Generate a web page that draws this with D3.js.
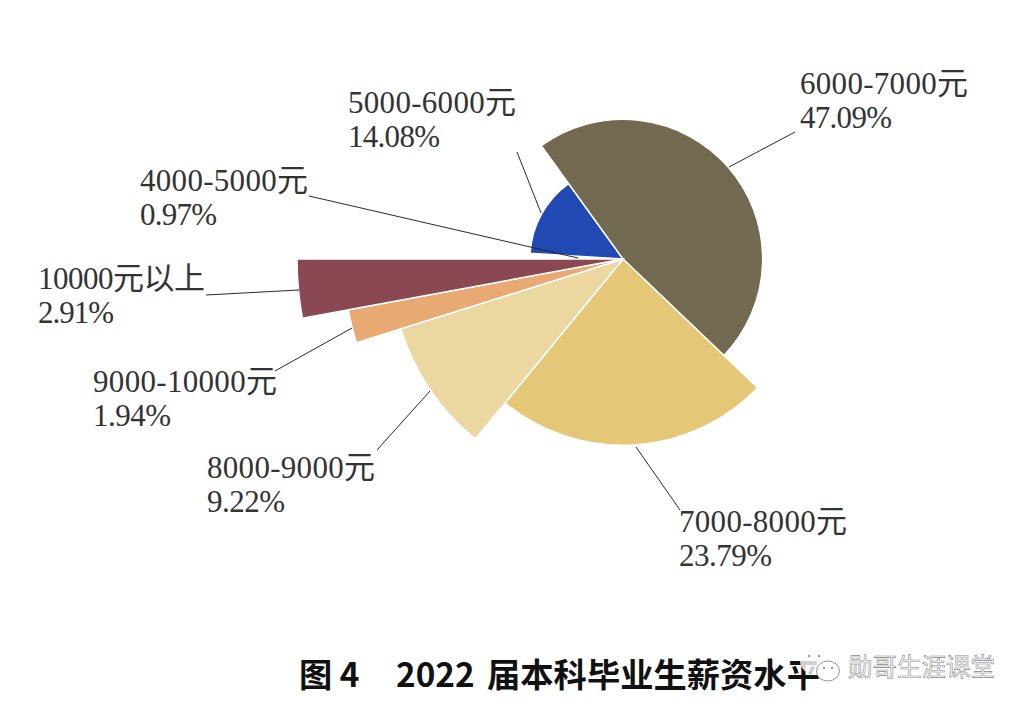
<!DOCTYPE html>
<html>
<head>
<meta charset="utf-8">
<script src="https://cdn.jsdelivr.net/npm/d3@7"></script>
<style>
  html, body { margin: 0; background: #fff; }
  .lbl { font-family: "Liberation Serif", "Noto Sans CJK SC", serif; font-size: 31px; fill: #333; }
  .ttl { font-family: "Noto Sans CJK SC", sans-serif; font-size: 33.3px; font-weight: 700; fill: #111; }
  .mark { font-family: "Noto Sans CJK SC", sans-serif; font-size: 24.5px; fill: #fff; stroke: #8a8a8a; stroke-width: .6px; }
</style>
</head>
<body>
<div id="chart"></div>
<script>
var svgWidth = 1030;
var svgHeight = 712;

// salary bands, in the order the slices run
var categories = ['4000-5000元', '5000-6000元', '6000-7000元', '7000-8000元', '8000-9000元', '9000-10000元', '10000元以上'];
var percents = [0.97, 14.08, 47.09, 23.79, 9.22, 1.94, 2.91];
var colors = ['#f6f1e6', '#2149b4', '#716a50', '#e5c877', '#ecd7a0', '#e8aa72', '#8a4852'];

// label anchor, drawn width of both text lines, leader line [x1, y1, x2, y2]
var labelPos = [[140, 191], [348, 113], [800, 94], [679, 532], [207, 478], [93, 392], [38, 289]];
var nameWidths = [168, 168, 168, 168, 168, 184, 167];
var pctWidths = [77, 92, 92, 93, 78, 78, 76];
var leaders = [
  [309, 196, 578, 258],
  [517, 152, 541, 213],
  [729, 167, 795, 132],
  [636, 447, 680, 510],
  [430, 391, 377, 450],
  [352, 328, 275, 371],
  [299, 290, 206, 295]
];

var center = [623, 259];

var svg = d3.select('#chart').append('svg')
  .attr('width', svgWidth)
  .attr('height', svgHeight);

// slices start pointing left, radius grows a step per band
var pie = d3.pie().sort(null)
  .startAngle(-Math.PI / 2)
  .endAngle(Math.PI * 1.5);

var radius = d3.scaleLinear().domain([0, 6]).range([46.5, 326]);
var arc = d3.arc().innerRadius(0).outerRadius((d) => radius(d.index));

svg.append('g')
  .attr('transform', `translate(${center[0]}, ${center[1]})`)
  .selectAll('path')
  .data(pie(percents))
  .enter()
  .append('path')
  .attr('d', arc)
  .attr('fill', (d, i) => colors[i])
  .attr('stroke', '#fff')
  .attr('stroke-width', 1.5);

// the 4000-5000 leader runs across the blue slice, so leaders go on top
svg.append('g').selectAll('line')
  .data(leaders)
  .enter()
  .append('line')
  .attr('x1', d => d[0])
  .attr('y1', d => d[1])
  .attr('x2', d => d[2])
  .attr('y2', d => d[3])
  .attr('stroke', '#2a2a2a')
  .attr('stroke-width', 1);

// labels
svg.append('g').selectAll('text')
  .data(categories)
  .enter()
  .append('text')
  .attr('class', 'lbl')
  .attr('x', (d, i) => labelPos[i][0])
  .attr('y', (d, i) => labelPos[i][1])
  .attr('textLength', (d, i) => nameWidths[i])
  .text(d => d);

svg.append('g').selectAll('text')
  .data(percents)
  .enter()
  .append('text')
  .attr('class', 'lbl')
  .attr('x', (d, i) => labelPos[i][0])
  .attr('y', (d, i) => labelPos[i][1] + 34)
  .attr('textLength', (d, i) => pctWidths[i])
  .text(d => d.toFixed(2) + '%');

var title = svg.append('text')
  .attr('class', 'ttl')
  .attr('y', 687);
title.append('tspan').attr('x', 299).text('图 4');
title.append('tspan').attr('x', 396).text('2022');
title.append('tspan').attr('x', 487).text('届本科毕业生薪资水平');

// watermark, sits over the end of the title
var wm = svg.append('g').attr('transform', 'translate(800, 648)');
wm.append('ellipse').attr('cx', 14).attr('cy', 13).attr('rx', 14).attr('ry', 13)
  .attr('fill', '#fff').attr('fill-opacity', 0.8);
wm.append('ellipse').attr('cx', 28).attr('cy', 23).attr('rx', 11.5).attr('ry', 10)
  .attr('fill', '#fff').attr('stroke', '#999');
wm.selectAll('circle')
  .data([[9, 8], [19, 8], [24, 20], [32, 20]])
  .enter()
  .append('circle')
  .attr('cx', d => d[0])
  .attr('cy', d => d[1])
  .attr('r', 1.2)
  .attr('fill', '#999');

svg.append('text')
  .attr('class', 'mark')
  .attr('x', 848)
  .attr('y', 676)
  .text('勋哥生涯课堂');
</script>
</body>
</html>
